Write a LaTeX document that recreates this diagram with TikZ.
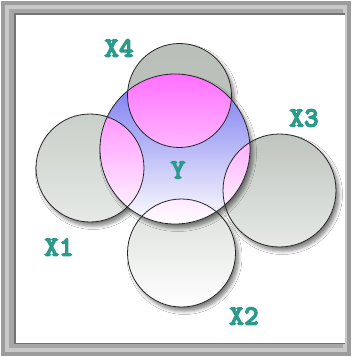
\documentclass[tikz,border=0pt]{standalone}
\usepackage{fontspec}
\newfontfamily\lblfont{lmmonolt10-bold.otf}[FakeBold=4]
\usetikzlibrary{shadows.blur}
\definecolor{teal2}{HTML}{2A9A8A}
\definecolor{frameg}{HTML}{9C9C9C}
\definecolor{framel}{HTML}{C8C8C8}
\definecolor{yblue}{HTML}{7474F0}
\definecolor{pinkm}{HTML}{FF70FF}
\definecolor{gg1}{HTML}{C9CFC9}
\definecolor{gg2}{HTML}{E6E9E6}
\tikzset{
  lbl/.style={text=teal2, font=\lblfont\fontsize{28}{28}\selectfont, inner sep=0pt},
  ring/.style={draw=black!85, line width=0.8pt},
  shad/.style={blur shadow={shadow xshift=3pt, shadow yshift=-4pt, shadow blur steps=6, shadow opacity=50, shadow blur radius=3.5pt}},
}
\begin{document}
\begin{tikzpicture}[x=1pt,y=-1pt]
\useasboundingbox (0,0) rectangle (352,357);
% frame
\fill[white] (0,0) rectangle (352,357);
\fill[frameg] (1,1) rectangle (351,356);
\fill[framel] (5,5) rectangle (347,352);
\fill[frameg!90] (9,9) rectangle (343,348);
\fill[black!55] (14,13) rectangle (345,344);
\fill[white] (16,15) rectangle (345,343);
% centres
\coordinate (cY) at (175,149);
\coordinate (c4) at (179.5,95.5);
\coordinate (c1) at (90,168);
\coordinate (c3) at (279.5,190.5);
\coordinate (c2) at (181.5,253);
% outer circles
\shade[shad, top color=gg1, bottom color=gg2] (c1) circle[radius=54];
\shade[shad, top color=gg1!95!black, bottom color=gg2] (c3) circle[radius=56.5];
\shade[shad, top color=gg1!70!white, bottom color=white] (c2) circle[radius=54];
\shade[shad, top color=gg1!92!black, bottom color=gg1!95!black] (c4) circle[radius=52];
% Y
\shade[shad, top color=yblue, bottom color=white] (cY) circle[radius=75];
\begin{scope}
  \clip (c4) circle[radius=52];
  \shade[top color=pinkm, bottom color=white] (cY) circle[radius=75];
\end{scope}
\begin{scope}
  \clip (c1) circle[radius=54];
  \shade[top color=pinkm, bottom color=white] (cY) circle[radius=75];
\end{scope}
\begin{scope}
  \clip (c3) circle[radius=56.5];
  \shade[top color=pinkm, bottom color=white] (cY) circle[radius=75];
\end{scope}
\begin{scope}
  \clip (c2) circle[radius=54];
  \shade[top color=pinkm, bottom color=white] (cY) circle[radius=75];
\end{scope}
% outlines
\draw[ring] (c1) circle[radius=54];
\draw[ring] (c3) circle[radius=56.5];
\draw[ring] (c2) circle[radius=54];
\draw[ring] (c4) circle[radius=52];
\draw[ring] (cY) circle[radius=75];
% labels
\node[lbl] (lX4) at (119,48) {X4};
\node[lbl] (lX3) at (304,118) {X3};
\node[lbl] (lX1) at (59,247) {X1};
\node[lbl] (lX2) at (244,316) {X2};
\node[lbl] (lY) at (178,170) {Y};
\end{tikzpicture}
\end{document}
